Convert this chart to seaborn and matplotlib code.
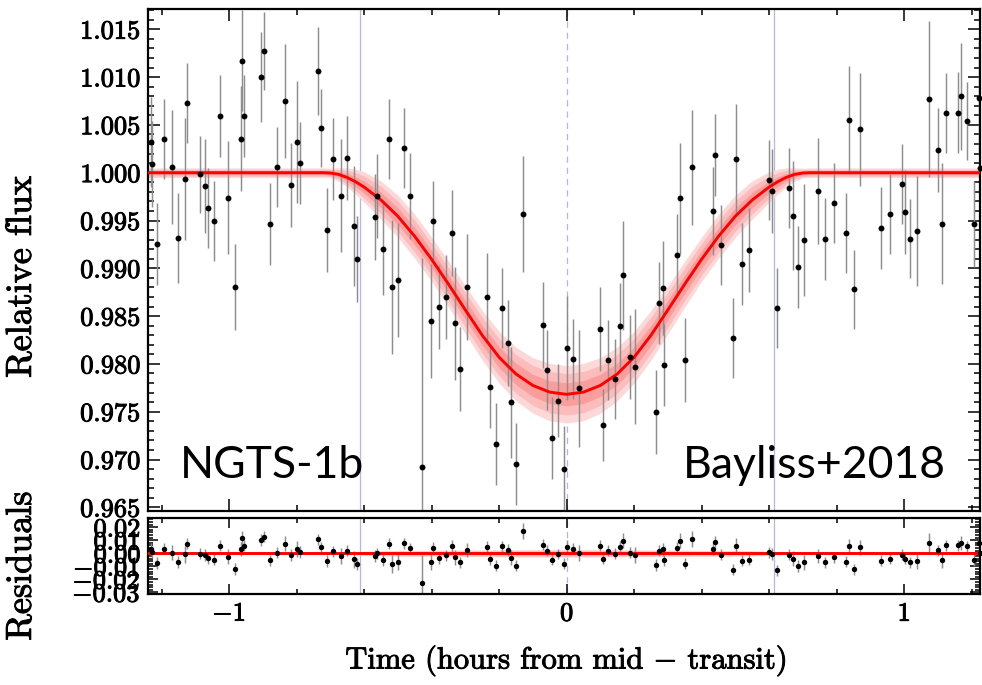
import numpy as np
import pandas as pd
import matplotlib
matplotlib.use("Agg")
import matplotlib.pyplot as plt
import matplotlib.patheffects as pe
import seaborn as sns
from matplotlib.ticker import MultipleLocator, FixedLocator, FixedFormatter

# ---------------- data ----------------
time = [-1.231, -1.228, -1.212, -1.193, -1.168, -1.152, -1.131, -1.123, -1.087, -1.070,
        -1.062, -1.045, -1.026, -1.002, -0.982, -0.965, -0.963, -0.955, -0.904, -0.895,
        -0.878, -0.858, -0.834, -0.816, -0.799, -0.789, -0.737, -0.728, -0.709, -0.692,
        -0.667, -0.651, -0.631, -0.622, -0.569, -0.563, -0.544, -0.525, -0.516, -0.500,
        -0.483, -0.463, -0.427, -0.402, -0.395, -0.377, -0.357, -0.340, -0.332, -0.315,
        -0.295, -0.236, -0.228, -0.209, -0.192, -0.175, -0.165, -0.149, -0.130, -0.069,
        -0.059, -0.044, -0.025, -0.008, 0.001, 0.019, 0.036, 0.099, 0.108, 0.123,
        0.142, 0.159, 0.167, 0.187, 0.202, 0.265, 0.273, 0.286, 0.290, 0.326,
        0.335, 0.351, 0.370, 0.433, 0.440, 0.457, 0.494, 0.503, 0.519, 0.539,
        0.599, 0.608, 0.623, 0.659, 0.670, 0.685, 0.704, 0.745, 0.765, 0.791,
        0.827, 0.837, 0.852, 0.870, 0.932, 0.957, 0.994, 1.003, 1.018, 1.038,
        1.075, 1.099, 1.112, 1.125, 1.160, 1.168, 1.185, 1.206, 1.222, 1.224]
flux = [1.00324, 1.00088, 0.99251, 1.00349, 1.00060, 0.99320, 0.99931, 1.00726, 0.99983, 0.99861,
        0.99634, 0.99495, 1.00596, 0.99738, 0.98808, 1.00356, 1.01172, 1.00596, 1.00998, 1.01273,
        0.99467, 1.00060, 1.00750, 0.99868, 1.00318, 1.00101, 1.01061, 1.00468, 0.99404, 1.00143,
        0.99760, 1.00150, 0.99442, 0.99094, 0.99533, 0.99756, 0.99202, 1.00349, 0.98804, 0.98878,
        1.00258, 0.99760, 0.96918, 0.98449, 0.99495, 0.98598, 0.98703, 0.99366, 0.98425, 0.97950,
        0.98804, 0.98703, 0.97755, 0.97162, 0.98585, 0.98219, 0.97601, 0.96953, 0.99568, 0.98407,
        0.97933, 0.97225, 0.97615, 0.96900, 0.98166, 0.98048, 0.97745, 0.98368, 0.97361, 0.98044,
        0.97845, 0.98396, 0.98930, 0.98069, 0.97971, 0.97494, 0.98634, 0.98791, 0.97988, 0.99136,
        0.99732, 0.98038, 1.00056, 0.99596, 1.00188, 0.99247, 0.98274, 1.00146, 0.99042, 0.99191,
        0.99924, 0.99809, 0.98588, 0.99837, 0.99550, 0.99010, 0.99296, 0.99809, 0.99310, 0.99683,
        0.99369, 1.00551, 0.98780, 1.00454, 0.99422, 0.99565, 0.99885, 0.99586, 0.99310, 0.99390,
        1.00771, 1.00234, 0.99467, 1.00621, 1.00628, 1.00799, 1.00541, 0.99467, 1.00778, 1.00052]
flux_err = [0.0047, 0.0045, 0.0043, 0.0042, 0.0060, 0.0047, 0.0064, 0.0042, 0.0040, 0.0049,
            0.0042, 0.0042, 0.0043, 0.0059, 0.0045, 0.0055, 0.0053, 0.0043, 0.0047, 0.0041,
            0.0043, 0.0042, 0.0060, 0.0044, 0.0064, 0.0043, 0.0046, 0.0041, 0.0044, 0.0043,
            0.0059, 0.0044, 0.0063, 0.0045, 0.0045, 0.0044, 0.0048, 0.0042, 0.0070, 0.0060,
            0.0042, 0.0045, 0.0219, 0.0060, 0.0042, 0.0044, 0.0044, 0.0045, 0.0059, 0.0044,
            0.0055, 0.0046, 0.0042, 0.0043, 0.0042, 0.0045, 0.0058, 0.0043, 0.0061, 0.0045,
            0.0042, 0.0043, 0.0038, 0.0045, 0.0054, 0.0042, 0.0061, 0.0044, 0.0038, 0.0042,
            0.0042, 0.0045, 0.0057, 0.0044, 0.0060, 0.0044, 0.0043, 0.0049, 0.0043, 0.0043,
            0.0058, 0.0044, 0.0060, 0.0046, 0.0043, 0.0042, 0.0042, 0.0057, 0.0043, 0.0044,
            0.0042, 0.0044, 0.0042, 0.0042, 0.0057, 0.0043, 0.0059, 0.0055, 0.0043, 0.0042,
            0.0042, 0.0056, 0.0041, 0.0059, 0.0043, 0.0042, 0.0042, 0.0044, 0.0041, 0.0058,
            0.0082, 0.0044, 0.0063, 0.0042, 0.0042, 0.0056, 0.0041, 0.0045, 0.0060, 0.0045]

# transit model curve and its outer band half-width
model_time = [-1.24, -0.72, -0.70, -0.675, -0.65, -0.625, -0.60, -0.55, -0.50, -0.45, -0.40,
              -0.35, -0.30, -0.25, -0.20, -0.15, -0.10, -0.05, 0.00, 0.05, 0.10, 0.15,
              0.20, 0.25, 0.30, 0.35, 0.40, 0.45, 0.50, 0.55, 0.60, 0.625, 0.65, 0.675,
              0.70, 0.72, 1.225]
model_flux = [1.0, 1.0, 0.99997, 0.99982, 0.99950, 0.99905, 0.99850, 0.99715, 0.99545, 0.99335, 0.99095,
              0.98835, 0.98565, 0.98300, 0.98070, 0.97895, 0.97775, 0.97705, 0.97682, 0.97705, 0.97775, 0.97895,
              0.98070, 0.98300, 0.98565, 0.98835, 0.99095, 0.99335, 0.99545, 0.99715, 0.99850, 0.99905, 0.99950, 0.99982,
              0.99997, 1.0, 1.0]
band_outer = [0.0005, 0.0005, 0.0005, 0.0007, 0.0010, 0.0013, 0.0016, 0.0020, 0.0022, 0.0023, 0.0023,
              0.0024, 0.0025, 0.0026, 0.0027, 0.0028, 0.0029, 0.0030, 0.0030, 0.0030, 0.0029, 0.0028,
              0.0027, 0.0026, 0.0025, 0.0024, 0.0023, 0.0023, 0.0022, 0.0020, 0.0016, 0.0013, 0.0010, 0.0007,
              0.0005, 0.0005, 0.0005]
band_levels = [1.0, 0.72, 0.40]
band_colors = ["#fdd8d8", "#fcbcbc", "#f99d9d"]

contact_times = [-0.613, 0.613]
mid_time = [0.0]

flux_ticks = [0.965, 0.970, 0.975, 0.980, 0.985, 0.990, 0.995, 1.000, 1.005, 1.010, 1.015]
flux_ticklabels = ["0.965", "0.970", "0.975", "0.980", "0.985", "0.990", "0.995", "1.000",
                   "1.005", "1.010", "1.015"]
resid_ticks = [-0.03, -0.02, -0.01, 0.0, 0.01, 0.02]
resid_ticklabels = [r"$-$0.03", r"$-$0.02", r"$-$0.01", "0.00", "0.01", "0.02"]
time_ticks = [-1, 0, 1]
time_ticklabels = [r"$-$1", "0", "1"]

# ---------------- derived tables ----------------
df = pd.DataFrame({"time": time, "flux": flux, "err": flux_err})
df["resid"] = df["flux"] - np.interp(df["time"], model_time, model_flux)
mdf = pd.DataFrame({"time": model_time, "flux": model_flux, "band": band_outer})
mdf["zero"] = 0.0

# ---------------- style ----------------
sns.set_style("ticks")
plt.rcParams["font.family"] = ["cmr10", "DejaVu Serif"]
plt.rcParams["mathtext.fontset"] = "cm"
plt.rcParams["axes.unicode_minus"] = False
for k in ("text.color", "axes.labelcolor", "xtick.color", "ytick.color", "xtick.labelcolor",
          "ytick.labelcolor"):
    plt.rcParams[k] = "black"

heavy = [pe.withStroke(linewidth=0.7, foreground="black")]

W, H = 982, 685
fig = plt.figure(figsize=(W / 100, H / 100), dpi=100)
L, R = 148, 980
ax = fig.add_axes([L / W, 1 - 510.5 / H, (R - L) / W, (510.5 - 9.3) / H])
axr = fig.add_axes([L / W, 1 - 594.3 / H, (R - L) / W, (594.3 - 518.3) / H])

xlim = (-1.240, 1.2246)
line_red = "#ff0000"
vcol = "#b4b4f4"

for a, base in ((ax, "flux"), (axr, "zero")):
    for lev, col in zip(band_levels, band_colors):
        a.fill_between(mdf["time"], mdf[base] - lev * mdf["band"], mdf[base] + lev * mdf["band"],
                       color=col, lw=0, zorder=1)
    sns.lineplot(data=mdf, x="time", y=base, ax=a, color=line_red, lw=2.1, zorder=3,
                 estimator=None, sort=False)
    for ct in contact_times:
        a.axvline(ct, color=vcol, lw=0.9, zorder=0.5)
    for mt in mid_time:
        a.axvline(mt, color=vcol, lw=0.9, ls=(0, (5, 4)), zorder=0.5)

# data with error bars
ax.errorbar(df["time"], df["flux"], yerr=df["err"], fmt="none", ecolor="#8e8e8e",
            elinewidth=1.05, capsize=0, zorder=2)
sns.scatterplot(data=df, x="time", y="flux", ax=ax, color="black", s=18, linewidth=0,
                zorder=5, clip_on=False)
axr.errorbar(df["time"], df["resid"], yerr=df["err"], fmt="none", ecolor="#8e8e8e",
             elinewidth=1.05, capsize=0, zorder=2)
sns.scatterplot(data=df, x="time", y="resid", ax=axr, color="black", s=15, linewidth=0,
                zorder=5, clip_on=False)

# ---------------- axes ----------------
ax.set_xlim(*xlim)
ax.set_ylim(0.96467, 1.01709)
axr.set_xlim(*xlim)
axr.set_ylim(-0.0315, 0.0269)

for a in (ax, axr):
    for s in a.spines.values():
        s.set_visible(True)
        s.set_linewidth(1.6)
        s.set_color("black")
    a.set_xlabel("")
    a.set_ylabel("")
    a.xaxis.set_minor_locator(MultipleLocator(0.2))
    a.tick_params(which="both", direction="in", top=True, right=True, bottom=True, left=True,
                  color="black", width=1.1)

ax.xaxis.set_major_locator(FixedLocator(time_ticks))
ax.set_xticklabels([])
ax.yaxis.set_major_locator(FixedLocator(flux_ticks))
ax.yaxis.set_major_formatter(FixedFormatter(flux_ticklabels))
ax.yaxis.set_minor_locator(MultipleLocator(0.001))
ax.tick_params(which="major", length=8.5, labelsize=19, pad=5.5)
ax.tick_params(which="minor", length=4.5)

axr.xaxis.set_major_locator(FixedLocator(time_ticks))
axr.xaxis.set_major_formatter(FixedFormatter(time_ticklabels))
axr.yaxis.set_major_locator(FixedLocator(resid_ticks))
axr.yaxis.set_major_formatter(FixedFormatter(resid_ticklabels))
axr.yaxis.set_minor_locator(MultipleLocator(0.002))
axr.tick_params(which="major", length=7, labelsize=19, pad=5.5)
axr.tick_params(which="minor", length=3.5)

for a in (ax, axr):
    for lab in a.get_xticklabels() + a.get_yticklabels():
        lab.set_path_effects(heavy)

# labels
fig.text(22 / W, 1 - 277 / H, "Relative flux", rotation=90, ha="center", va="center", fontsize=26,
         path_effects=heavy)
fig.text(22 / W, 1 - 566 / H, "Residuals", rotation=90, ha="center", va="center", fontsize=26,
         path_effects=heavy)
fig.text(566 / W, 1 - 661 / H, r"Time (hours from mid $-$ transit)", ha="center", va="center",
         fontsize=22, path_effects=heavy)

ax.text((180 - L) / (R - L), (510.5 - 478) / 501.2, "NGTS-1b", transform=ax.transAxes,
        ha="left", va="baseline", fontsize=32, color="black", family=["Lato", "DejaVu Sans"])
ax.text((946 - L) / (R - L), (510.5 - 478) / 501.2, "Bayliss+2018", transform=ax.transAxes,
        ha="right", va="baseline", fontsize=32, color="black", family=["Lato", "DejaVu Sans"])

fig.savefig("out.png", dpi=100)
